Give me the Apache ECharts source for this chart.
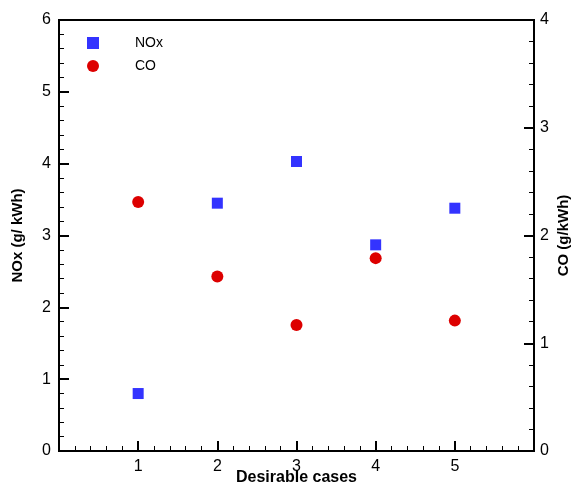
<!DOCTYPE html>
<html>
<head>
<meta charset="utf-8">
<script src="https://cdn.jsdelivr.net/npm/echarts@6/dist/echarts.min.js"></script>
<style>html,body{margin:0;padding:0;background:#fff}#c{width:577px;height:486px}</style>
</head>
<body>
<div id="c"></div>
<script>
var cases = [1, 2, 3, 4, 5];
var noxValues = [0.8, 3.45, 4.03, 2.87, 3.38];
var coValues = [2.31, 1.62, 1.17, 1.79, 1.21];
var xTickLabels = ['1', '2', '3', '4', '5'];

var font = 'Liberation Sans, Arial, sans-serif';
var chart = echarts.init(document.getElementById('c'));
function pairs(xs, ys) { return xs.map(function (x, i) { return [x, ys[i]]; }); }
var axisCommon = {
  axisLine: { show: true, onZero: false, lineStyle: { color: '#000', width: 2 } },
  axisTick: { show: true, inside: true, length: 10, lineStyle: { color: '#000', width: 2 } },
  minorTick: { show: true, splitNumber: 5, length: 5, lineStyle: { color: '#000', width: 1 } },
  splitLine: { show: false },
  axisLabel: { color: '#000', fontFamily: font, fontSize: 16, margin: 8 },
  nameMoveOverlap: false,
  nameTextStyle: { color: '#000', fontFamily: font, fontSize: 15, fontWeight: 'bold' }
};
chart.setOption({
  animation: false,
  backgroundColor: '#fff',
  grid: { left: 59, right: 43, top: 20, bottom: 35, outerBoundsMode: 'none', containLabel: false, show: true, borderColor: '#000', borderWidth: 2, backgroundColor: 'transparent' },
  legend: {
    left: 82, top: 31, orient: 'vertical', itemWidth: 12, itemHeight: 12, itemGap: 9,
    textStyle: { color: '#000', fontFamily: font, fontSize: 14, padding: [0, 0, 0, 31] },
    data: [{ name: 'NOx', icon: 'rect' }, { name: 'CO', icon: 'circle' }]
  },
  xAxis: Object.assign({}, axisCommon, {
    type: 'value', min: 0, max: 6, interval: 1,
    name: 'Desirable cases', nameLocation: 'middle', nameGap: 19,
    nameTextStyle: { color: '#000', fontFamily: font, fontSize: 16, fontWeight: 'bold' },
    axisLabel: Object.assign({}, axisCommon.axisLabel, { margin: 8, formatter: function (v) { var i = cases.indexOf(v); return i >= 0 ? xTickLabels[i] : ''; } })
  }),
  yAxis: [
    Object.assign({}, axisCommon, {
      type: 'value', min: 0, max: 6, interval: 1, position: 'left',
      name: 'NOx (g/ kWh)', nameLocation: 'middle', nameGap: 34, nameRotate: 90
    }),
    Object.assign({}, axisCommon, {
      type: 'value', min: 0, max: 4, interval: 1, position: 'right',
      name: 'CO (g/kWh)', nameLocation: 'middle', nameGap: 22, nameRotate: 90,
      axisLabel: Object.assign({}, axisCommon.axisLabel, { margin: 6 })
    })
  ],
  series: [
    { name: 'NOx', type: 'scatter', yAxisIndex: 0, symbol: 'rect', symbolSize: 11, itemStyle: { color: '#3333ff', opacity: 1 }, data: pairs(cases, noxValues) },
    { name: 'CO', type: 'scatter', yAxisIndex: 1, symbol: 'circle', symbolSize: 12, itemStyle: { color: '#dd0000', opacity: 1 }, data: pairs(cases, coValues) }
  ]
});
</script>
</body>
</html>
